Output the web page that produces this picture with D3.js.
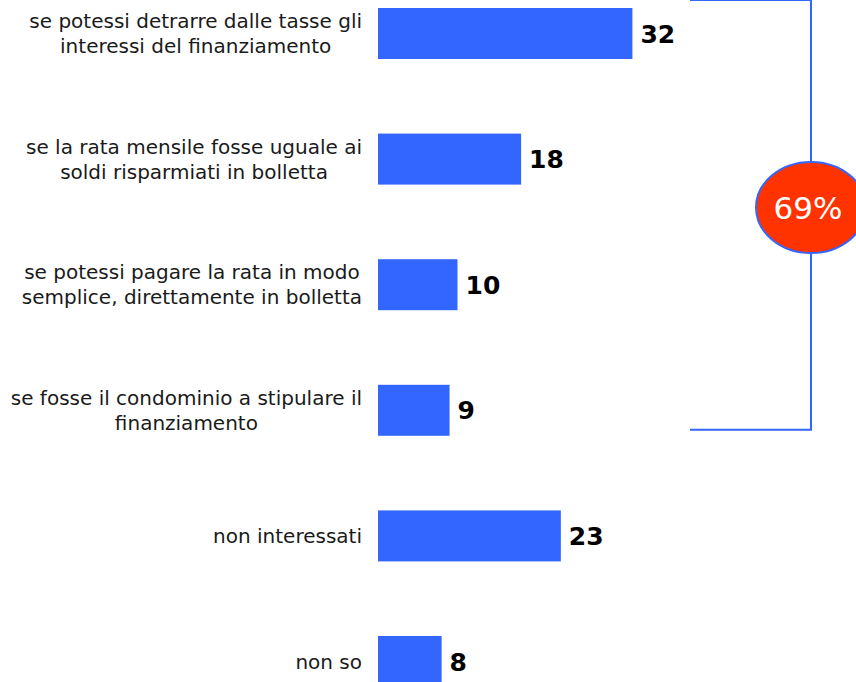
<!DOCTYPE html>
<meta charset="utf-8">
<script src="https://d3js.org/d3.v7.min.js"></script>
<style>
  body { margin: 0; background: #fff; }
  text { font-family: "DejaVu Sans", Verdana, sans-serif; }
</style>
<div id="my_dataviz"></div>
<script>

// data
var categories = [
  ["se potessi detrarre dalle tasse gli", "interessi del finanziamento"],
  ["se la rata mensile fosse uguale ai", "soldi risparmiati in bolletta"],
  ["se potessi pagare la rata in modo", "semplice, direttamente in bolletta"],
  ["se fosse il condominio a stipulare il", "finanziamento"],
  ["non interessati"],
  ["non so"]
];
var values = [32, 18, 10, 9, 23, 8];
// rows grouped by the bracket on the right
var bracketRows = [0, 1, 2, 3];

var width = 856, height = 682;

var svg = d3.select("#my_dataviz")
  .append("svg")
    .attr("width", width)
    .attr("height", height);

var idx = d3.range(values.length);

// scales
var x = d3.scaleLinear()
  .domain([0, 40])
  .range([378, 696]);

var y = d3.scaleBand()
  .domain(idx)
  .range([-29.3, 724.3])
  .paddingInner(0.594)
  .paddingOuter(0.297);

// bars
svg.selectAll(".bar")
  .data(idx)
  .enter()
  .append("rect")
    .attr("class", "bar")
    .attr("x", x(0))
    .attr("y", function(i) { return y(i); })
    .attr("width", function(i) { return x(values[i]) - x(0); })
    .attr("height", y.bandwidth())
    .attr("fill", "#3366FF");

// value labels
svg.selectAll(".val")
  .data(idx)
  .enter()
  .append("text")
    .attr("class", "val")
    .attr("x", function(i) { return x(values[i]) + 8; })
    .attr("y", function(i) { return y(i) + y.bandwidth() / 2; })
    .attr("dy", "0.36em")
    .style("font-size", "25px")
    .style("font-weight", "bold")
    .style("fill", "#000")
    .text(function(i) { return values[i]; });

// category labels: block right aligned, lines centred inside it
var lineH = 25;
idx.forEach(function(i) {
  var lines = categories[i];
  var g = svg.append("g");
  var t = g.append("text")
    .style("font-size", "20px")
    .style("fill", "#1a1a1a")
    .attr("text-anchor", "middle");
  var cy = y(i) + y.bandwidth() / 2;
  lines.forEach(function(l, k) {
    t.append("tspan")
      .attr("x", 0)
      .attr("y", cy + (k - (lines.length - 1) / 2) * lineH)
      .attr("dy", "0.35em")
      .text(l);
  });
  var w = d3.max(t.selectAll("tspan").nodes(), function(n) { return n.getComputedTextLength(); });
  g.attr("transform", "translate(" + (362 - w / 2) + ",0)");
});

// bracket
var bx = 811, bl = 690;
var bTop = y(bracketRows[0]) - 8;
var bBottom = y(bracketRows[bracketRows.length - 1]) + y.bandwidth() - 6;
svg.append("path")
  .attr("d", "M" + bl + "," + bTop + "H" + bx + "V" + bBottom + "H" + bl)
  .attr("fill", "none")
  .attr("stroke", "#3366FF")
  .attr("stroke-width", 2);

var total = d3.sum(bracketRows, function(i) { return values[i]; });
var ecy = 207.5;
svg.append("ellipse")
  .attr("cx", bx)
  .attr("cy", ecy)
  .attr("rx", 55)
  .attr("ry", 45.5)
  .attr("fill", "#FF3300")
  .attr("stroke", "#3366FF")
  .attr("stroke-width", 2);

svg.append("text")
  .attr("x", 808)
  .attr("y", ecy)
  .attr("dy", "0.36em")
  .attr("text-anchor", "middle")
  .style("font-size", "31px")
  .style("fill", "#fff")
  .text(total + "%");

</script>
